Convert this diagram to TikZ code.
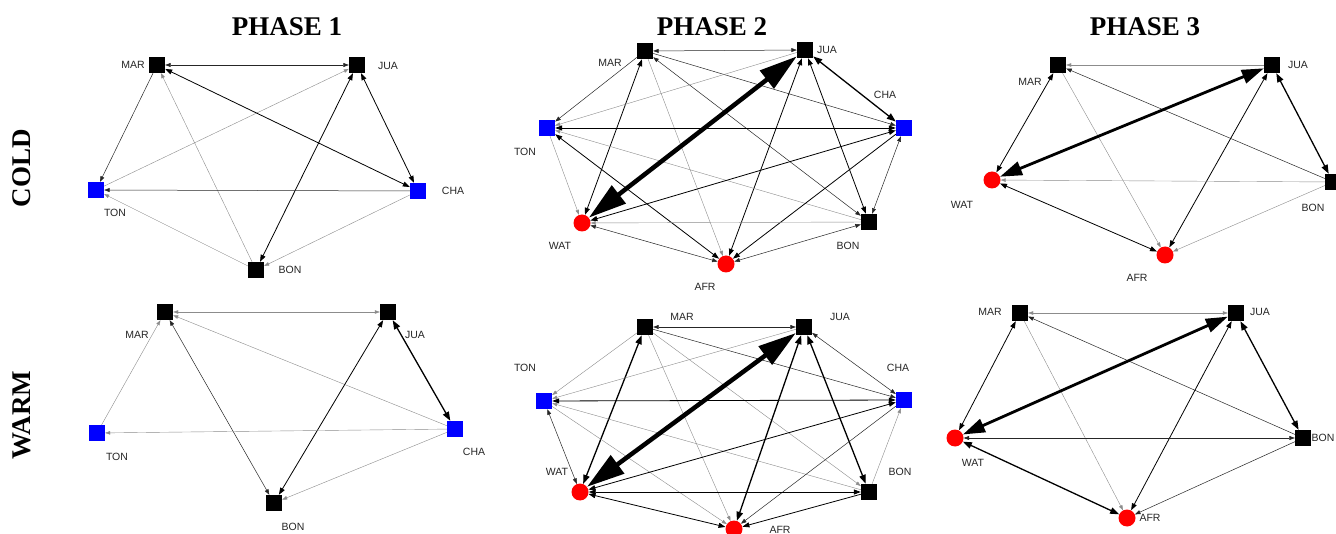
\documentclass[tikz,border=0pt]{standalone}
\usepackage{fontspec}
\usetikzlibrary{arrows.meta}
\newfontfamily\hdfont{Liberation Serif}
\newfontfamily\lbfont{Liberation Sans}
\tikzset{
  sq/.style={rectangle, fill=black, minimum size=16pt, inner sep=0pt},
  bsq/.style={rectangle, fill=blue, minimum size=16pt, inner sep=0pt},
  rc/.style={circle, fill=red, minimum size=17pt, inner sep=0pt},
  lbl/.style={font=\lbfont\fontsize{10.5}{12}\selectfont, text=black!85, inner sep=0pt},
  hdr/.style={font=\hdfont\bfseries\fontsize{27}{30}\selectfont, inner sep=0pt},
  e0/.style={draw=black!45, line width=0.4pt, >={Stealth[length=5pt,width=3.5pt,inset=0pt]}},
  e1/.style={draw=black!85, line width=0.5pt, >={Stealth[length=5.5pt,width=4pt,inset=0pt]}},
  e2/.style={draw=black, line width=0.8pt, >={Stealth[length=7pt,width=5pt,inset=0pt]}},
  e3/.style={draw=black, line width=1.3pt, >={Stealth[length=9pt,width=6.5pt,inset=0pt]}},
  e4/.style={draw=black, line width=2.8pt, >={Stealth[length=22pt,width=14pt,inset=0pt]}},
  e5/.style={draw=black, line width=4.5pt, >={Stealth[length=38pt,width=22pt,inset=0pt]}},
}
\begin{document}
\begin{tikzpicture}[x=1pt,y=-1pt]
\useasboundingbox[fill=white] (0,0) rectangle (1336,534);

% headers
\node[hdr] (h1) at (287,27) {PHASE 1};
\node[hdr] (h2) at (712,27) {PHASE 2};
\node[hdr] (h3) at (1145,27) {PHASE 3};
\node[hdr, rotate=90] (hc) at (22,168) {COLD};
\node[hdr, rotate=90] (hw) at (22,415) {WARM};

% ---------------- Panel 1: cold, phase 1
\node[sq]  (p1mar) at (157,65) {};
\node[sq]  (p1jua) at (357,65) {};
\node[bsq] (p1ton) at (96,190) {};
\node[bsq] (p1cha) at (418,191) {};
\node[sq]  (p1bon) at (256,270) {};
\node[lbl] (p1marl) at (133,65) {MAR};
\node[lbl] (p1jual) at (388,66) {JUA};
\node[lbl] (p1tonl) at (115,213) {TON};
\node[lbl] (p1chal) at (453,191) {CHA};
\node[lbl] (p1bonl) at (290,270) {BON};
\draw[e1,<->] (p1mar) -- (p1jua);
\draw[e1,->] (p1mar) -- (p1ton);
\draw[e0,->] (p1ton) -- (p1jua);
\draw[e2,<->] (p1mar) -- (p1cha);
\draw[e0,->] (p1bon) -- (p1mar);
\draw[e2,<->] (p1jua) -- (p1bon);
\draw[e2,<->] (p1jua) -- (p1cha);
\draw[e1,->] (p1cha) -- (p1ton);
\draw[e0,->] (p1bon) -- (p1ton);
\draw[e0,->] (p1cha) -- (p1bon);

% ---------------- Panel 2: cold, phase 2
\node[sq]  (p2mar) at (645,51) {};
\node[sq]  (p2jua) at (805,50) {};
\node[bsq] (p2cha) at (904,128) {};
\node[bsq] (p2ton) at (547,128) {};
\node[rc]  (p2wat) at (582,223) {};
\node[sq]  (p2bon) at (869,222) {};
\node[rc]  (p2afr) at (726,264) {};
\node[lbl] (p2marl) at (610,63) {MAR};
\node[lbl] (p2jual) at (827,50) {JUA};
\node[lbl] (p2chal) at (885,95) {CHA};
\node[lbl] (p2tonl) at (525,152) {TON};
\node[lbl] (p2watl) at (560,246) {WAT};
\node[lbl] (p2bonl) at (848,246) {BON};
\node[lbl] (p2afrl) at (705,287) {AFR};
\draw[e1,<->] (p2mar) -- (p2jua);
\draw[e1,->] (p2mar) -- (p2ton);
\draw[e2,<->] (p2mar) -- (p2wat);
\draw[e0,->] (p2mar) -- (p2afr);
\draw[e1,->] (p2mar) -- (p2cha);
\draw[e1,<->] (p2mar) -- (p2bon);
\draw[e0,->] (p2jua) -- (p2ton);
\draw[e2,<->] (p2jua) -- (p2afr);
\draw[e3,<->] (p2jua) -- (p2cha);
\draw[e2,<->] (p2jua) -- (p2bon);
\draw[e2,<->] (p2ton) -- (p2cha);
\draw[e0,->] (p2ton) -- (p2wat);
\draw[e2,<->] (p2ton) -- (p2afr);
\draw[e0,->] (p2bon) -- (p2ton);
\draw[e2,<->] (p2cha) -- (p2wat);
\draw[e2,->] (p2cha) -- (p2afr);
\draw[e1,<->] (p2cha) -- (p2bon);
\draw[e0,->] (p2bon) -- (p2wat);
\draw[e1,<->] (p2wat) -- (p2afr);
\draw[e1,<->] (p2bon) -- (p2afr);
\draw[e5,<->] (p2jua) -- (p2wat);

% ---------------- Panel 3: cold, phase 3
\node[sq] (p3mar) at (1058,65) {};
\node[sq] (p3jua) at (1272,65) {};
\node[rc] (p3wat) at (992,180) {};
\node[sq] (p3bon) at (1333,182) {};
\node[rc] (p3afr) at (1165,255) {};
\node[lbl] (p3marl) at (1030,82) {MAR};
\node[lbl] (p3jual) at (1298,65) {JUA};
\node[lbl] (p3watl) at (962,205) {WAT};
\node[lbl] (p3bonl) at (1313,208) {BON};
\node[lbl] (p3afrl) at (1137,278) {AFR};
\draw[e0,->] (p3jua) -- (p3mar);
\draw[e2,<->] (p3mar) -- (p3wat);
\draw[e0,->] (p3mar) -- (p3afr);
\draw[e1,->] (p3bon) -- (p3mar);
\draw[e2,<->] (p3jua) -- (p3afr);
\draw[e3,<->] (p3jua) -- (p3bon);
\draw[e0,->] (p3bon) -- (p3wat);
\draw[e2,<->] (p3wat) -- (p3afr);
\draw[e0,->] (p3bon) -- (p3afr);
\draw[e4,<->] (p3jua) -- (p3wat);

% ---------------- Panel 4: warm, phase 1
\node[sq]  (p4mar) at (165,312) {};
\node[sq]  (p4jua) at (388,312) {};
\node[bsq] (p4ton) at (97,433) {};
\node[bsq] (p4cha) at (455,429) {};
\node[sq]  (p4bon) at (274,503) {};
\node[lbl] (p4marl) at (137,335) {MAR};
\node[lbl] (p4jual) at (415,335) {JUA};
\node[lbl] (p4tonl) at (117,457) {TON};
\node[lbl] (p4chal) at (474,452) {CHA};
\node[lbl] (p4bonl) at (293,527) {BON};
\draw[e0,<->] (p4mar) -- (p4jua);
\draw[e0,->] (p4ton) -- (p4mar);
\draw[e1,<->] (p4mar) -- (p4bon);
\draw[e0,->] (p4cha) -- (p4mar);
\draw[e2,<->] (p4jua) -- (p4bon);
\draw[e3,<->] (p4jua) -- (p4cha);
\draw[e0,->] (p4cha) -- (p4ton);
\draw[e0,->] (p4cha) -- (p4bon);

% ---------------- Panel 5: warm, phase 2
\node[sq]  (p5mar) at (645,327) {};
\node[sq]  (p5jua) at (804,327) {};
\node[bsq] (p5ton) at (544,401) {};
\node[bsq] (p5cha) at (904,400) {};
\node[rc]  (p5wat) at (580,492) {};
\node[sq]  (p5bon) at (869,492) {};
\node[rc]  (p5afr) at (734,529) {};
\node[lbl] (p5marl) at (682,317) {MAR};
\node[lbl] (p5jual) at (840,317) {JUA};
\node[lbl] (p5tonl) at (525,368) {TON};
\node[lbl] (p5chal) at (898,368) {CHA};
\node[lbl] (p5watl) at (557,472) {WAT};
\node[lbl] (p5bonl) at (900,472) {BON};
\node[lbl] (p5afrl) at (780,530) {AFR};
\draw[e1,<->] (p5mar) -- (p5jua);
\draw[e0,->] (p5mar) -- (p5ton);
\draw[e3,<->] (p5mar) -- (p5wat);
\draw[e0,->] (p5mar) -- (p5afr);
\draw[e1,->] (p5mar) -- (p5cha);
\draw[e0,->] (p5mar) -- (p5bon);
\draw[e0,->] (p5jua) -- (p5ton);
\draw[e3,<->] (p5jua) -- (p5afr);
\draw[e1,<->] (p5jua) -- (p5cha);
\draw[e3,<->] (p5jua) -- (p5bon);
\draw[e2,<->] (p5ton) -- (p5cha);
\draw[e1,<->] (p5wat) -- (p5ton);
\draw[e0,->] (p5ton) -- (p5afr);
\draw[e0,->] (p5bon) -- (p5ton);
\draw[e2,<->] (p5cha) -- (p5wat);
\draw[e1,->] (p5cha) -- (p5afr);
\draw[e0,->] (p5bon) -- (p5cha);
\draw[e2,<->] (p5wat) -- (p5bon);
\draw[e2,<->] (p5wat) -- (p5afr);
\draw[e2,->] (p5bon) -- (p5afr);
\draw[e5,<->] (p5jua) -- (p5wat);

% ---------------- Panel 6: warm, phase 3
\node[sq] (p6mar) at (1020,313) {};
\node[sq] (p6jua) at (1236,313) {};
\node[rc] (p6wat) at (955,438) {};
\node[sq] (p6bon) at (1303,438) {};
\node[rc] (p6afr) at (1127,518) {};
\node[lbl] (p6marl) at (990,312) {MAR};
\node[lbl] (p6jual) at (1260,312) {JUA};
\node[lbl] (p6watl) at (973,463) {WAT};
\node[lbl] (p6bonl) at (1323,438) {BON};
\node[lbl] (p6afrl) at (1150,518) {AFR};
\draw[e0,<->] (p6mar) -- (p6jua);
\draw[e2,<->] (p6mar) -- (p6wat);
\draw[e0,->] (p6mar) -- (p6afr);
\draw[e1,->] (p6bon) -- (p6mar);
\draw[e2,<->] (p6jua) -- (p6afr);
\draw[e3,<->] (p6jua) -- (p6bon);
\draw[e1,<->] (p6wat) -- (p6bon);
\draw[e3,<->] (p6wat) -- (p6afr);
\draw[e1,->] (p6bon) -- (p6afr);
\draw[e4,<->] (p6jua) -- (p6wat);
\end{tikzpicture}
\end{document}
